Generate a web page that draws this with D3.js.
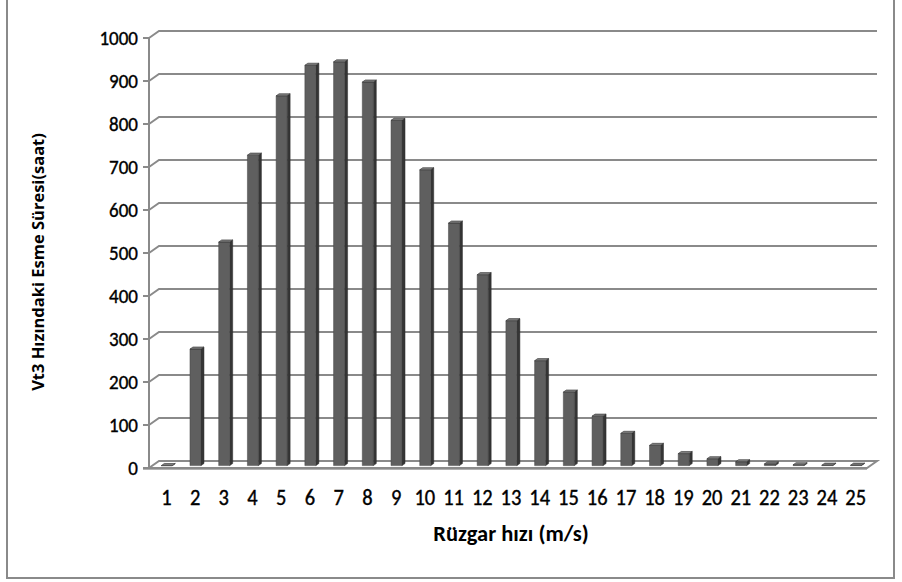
<!DOCTYPE html>
<html>
<head>
<meta charset="utf-8">
<script src="https://cdn.jsdelivr.net/npm/d3@7"></script>
<style>
  html, body { margin: 0; padding: 0; background: #fff; }
  svg { display: block; }
  .tick-label { font-family: Carlito, Calibri, "Liberation Sans Narrow", "Open Sans", sans-serif; fill: #000; stroke: #000; stroke-width: 0.35px; }
  .y-tick { font-size: 19px; }
  .x-tick { font-size: 20.5px; }
  .x-title { font-family: Carlito, Calibri, "Open Sans", sans-serif; font-size: 22.5px; font-weight: bold; fill: #000; }
  .y-title { font-family: "Open Sans", "Noto Sans", sans-serif; font-size: 16.5px; font-weight: bold; fill: #000; }
</style>
</head>
<body>
<script>
// Wind speed classes (m/s)
const speeds = ["1","2","3","4","5","6","7","8","9","10","11","12","13","14","15","16","17","18","19","20","21","22","23","24","25"];
// Hours blowing at each speed
const hours = [0, 271, 520, 722, 860, 931, 939, 892, 803, 688, 564, 444, 337, 244, 171, 115, 75, 47, 28, 16, 9, 4, 2, 1, 1];
// Value axis ticks
const yTicks = [0, 100, 200, 300, 400, 500, 600, 700, 800, 900, 1000];

const yTitle = "Vt3 Hızındaki Esme Süresi(saat)";
const xTitle = "Rüzgar hızı (m/s)";

const W = 902, H = 582;
const svg = d3.select("body").append("svg").attr("width", W).attr("height", H);

// Front plane of the 3-D plot box
const x0 = 149, x1 = 867, yBottom = 468, yTop = 38;
// Depth offset from front to back plane
const dX = 10, dY = -7;

const x = d3.scaleBand().domain(speeds).range([x0, x1]).paddingInner(0).paddingOuter(0);
const y = d3.scaleLinear().domain([0, 1000]).range([yBottom, yTop]);

const gridColor = "#8a8a8a";

// Chart frame
svg.append("rect")
  .attr("x", 7).attr("y", -3).attr("width", 887).attr("height", 581)
  .attr("fill", "none").attr("stroke", "#8a8a8a").attr("stroke-width", 2);

// Back-wall gridlines with their left-wall connectors
const grid = svg.append("g");
yTicks.forEach(v => {
  if (v === 0) return;
  grid.append("path")
    .attr("d", `M${x0},${y(v)} L${x0 + dX},${y(v) + dY} L${x1 + dX},${y(v) + dY}`)
    .attr("fill", "none").attr("stroke", gridColor).attr("stroke-width", 2);
});

// Floor
svg.append("path")
  .attr("d", `M${x0},${y(0)} L${x1},${y(0)} L${x1 + dX},${y(0) + dY} L${x0 + dX},${y(0) + dY} Z`)
  .attr("fill", "#ffffff").attr("stroke", gridColor).attr("stroke-width", 2)
  .attr("stroke-linejoin", "miter");
svg.append("line")
  .attr("x1", x0 - 6).attr("x2", x1).attr("y1", y(0) + 1.5).attr("y2", y(0) + 1.5)
  .attr("stroke", "#b0b0b0").attr("stroke-width", 1);

// Front value axis with ticks
svg.append("line")
  .attr("x1", x0).attr("x2", x0).attr("y1", y(1000)).attr("y2", y(0))
  .attr("stroke", gridColor).attr("stroke-width", 2);
svg.append("g").selectAll("line").data(yTicks).join("line")
  .attr("x1", x0 - 6).attr("x2", x0).attr("y1", d => y(d)).attr("y2", d => y(d))
  .attr("stroke", gridColor).attr("stroke-width", 2);

// Value labels
svg.append("g").selectAll("text").data(yTicks).join("text")
  .attr("class", "tick-label y-tick")
  .attr("transform", d => `translate(138,${y(d)}) scale(1,1.1)`)
  .attr("dy", "0.35em")
  .attr("text-anchor", "end")
  .text(d => d);

// Columns: front face sits part way into the depth
const fFront = 0.34, fBack = 0.64;
const bw = 11;
const bars = svg.append("g");
speeds.forEach((s, i) => {
  const v = hours[i];
  const cx = x(s) + x.bandwidth() / 2 + fFront * dX;
  const ox = fFront * dY;
  const l = cx - bw / 2, r = cx + bw / 2;
  const b = y(0) + ox, t = y(v) + ox;
  const sx = (fBack - fFront) * dX, sy = (fBack - fFront) * dY;
  // right side face
  bars.append("path")
    .attr("d", `M${r},${b} L${r + sx},${b + sy} L${r + sx},${t + sy} L${r},${t} Z`)
    .attr("fill", "#353535").attr("stroke", "#2a2a2a").attr("stroke-width", 0.5);
  // front face
  bars.append("path")
    .attr("d", `M${l},${b} L${r},${b} L${r},${t} L${l},${t} Z`)
    .attr("fill", "#5f5f5f").attr("stroke", "#444").attr("stroke-width", 0.5);
  // top face
  bars.append("path")
    .attr("d", `M${l},${t} L${r},${t} L${r + sx},${t + sy} L${l + sx},${t + sy} Z`)
    .attr("fill", "#7c7c7c").attr("stroke", "#333").attr("stroke-width", 0.6);
});

// Category labels
svg.append("g").selectAll("text").data(speeds).join("text")
  .attr("class", "tick-label x-tick")
  .attr("transform", d => `translate(${x(d) + x.bandwidth() / 2 + 3},497) scale(1,1.1)`)
  .attr("dy", "0.35em")
  .attr("text-anchor", "middle")
  .text(d => d);

// Axis titles
svg.append("text").attr("class", "x-title")
  .attr("x", 511).attr("y", 533).attr("dy", "0.35em")
  .attr("text-anchor", "middle")
  .text(xTitle);

svg.append("text").attr("class", "y-title")
  .attr("transform", "translate(38,262) rotate(-90)")
  .attr("dy", "0.35em")
  .attr("text-anchor", "middle")
  .text(yTitle);
</script>
</body>
</html>
